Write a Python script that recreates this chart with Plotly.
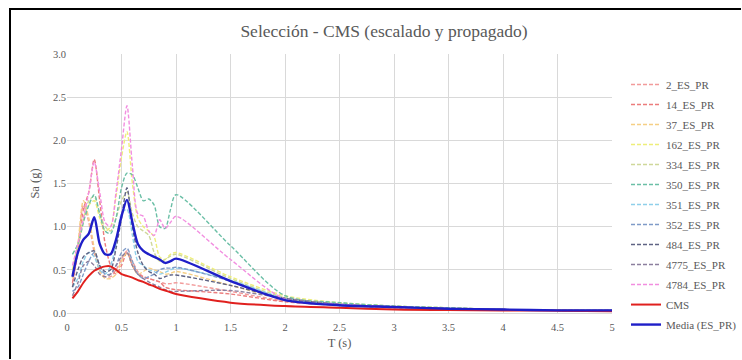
import plotly.graph_objects as go

# Period grid (s)
T = [0.05, 0.1, 0.15, 0.2, 0.25, 0.3, 0.35, 0.4, 0.45, 0.5, 0.55, 0.6, 0.65, 0.7,
     0.75, 0.8, 0.85, 0.9, 0.95, 1.0, 1.5, 2.0, 2.5, 3.0, 3.5, 4.0, 4.5, 5.0]

# Scaled and propagated records, Sa (g)
rec_2 = [0.30, 0.75, 1.25, 1.05, 0.70, 0.50, 0.42, 0.42, 0.50, 0.62, 0.72, 0.60, 0.48, 0.42,
         0.40, 0.38, 0.36, 0.34, 0.34, 0.35, 0.25, 0.14, 0.09, 0.06, 0.05, 0.04, 0.03, 0.03]
rec_14 = [0.35, 0.70, 1.20, 1.40, 1.78, 1.30, 0.80, 0.55, 0.45, 0.55, 0.70, 0.55, 0.45, 0.42,
          0.40, 0.38, 0.36, 0.30, 0.28, 0.27, 0.22, 0.13, 0.09, 0.06, 0.05, 0.04, 0.03, 0.03]
rec_37 = [0.40, 0.80, 1.30, 1.10, 0.75, 0.48, 0.40, 0.40, 0.45, 0.60, 0.70, 0.55, 0.45, 0.48,
          0.52, 0.50, 0.48, 0.45, 0.46, 0.48, 0.32, 0.16, 0.10, 0.07, 0.05, 0.04, 0.03, 0.03]
rec_162 = [0.50, 0.80, 1.10, 1.25, 1.30, 1.10, 0.95, 1.00, 1.35, 1.80, 2.10, 1.50, 1.10, 1.00,
           0.95, 0.88, 0.65, 0.62, 0.68, 0.70, 0.42, 0.20, 0.12, 0.08, 0.06, 0.04, 0.03, 0.03]
rec_334 = [0.45, 0.75, 1.05, 1.30, 1.35, 1.15, 1.00, 0.95, 1.10, 1.30, 1.40, 1.15, 1.00, 0.95,
           0.90, 0.70, 0.60, 0.62, 0.66, 0.68, 0.40, 0.18, 0.11, 0.08, 0.06, 0.04, 0.03, 0.03]
rec_350 = [0.68, 0.80, 1.05, 1.25, 1.37, 1.15, 0.95, 0.92, 1.10, 1.45, 1.62, 1.60, 1.45, 1.30,
           1.32, 1.25, 1.00, 0.98, 1.20, 1.37, 0.78, 0.20, 0.12, 0.08, 0.06, 0.04, 0.03, 0.03]
rec_351 = [0.30, 0.40, 0.60, 0.70, 0.65, 0.50, 0.45, 0.55, 0.80, 1.15, 1.20, 0.90, 0.60, 0.55,
           0.50, 0.48, 0.45, 0.47, 0.50, 0.52, 0.38, 0.17, 0.10, 0.07, 0.05, 0.04, 0.03, 0.03]
rec_352 = [0.25, 0.30, 0.45, 0.60, 0.70, 0.55, 0.45, 0.45, 0.55, 0.70, 0.75, 0.60, 0.45, 0.40,
           0.42, 0.45, 0.50, 0.52, 0.52, 0.53, 0.37, 0.16, 0.10, 0.07, 0.05, 0.04, 0.03, 0.03]
rec_484 = [0.30, 0.50, 0.65, 0.70, 0.72, 0.55, 0.48, 0.50, 0.75, 1.10, 1.45, 1.00, 0.70, 0.55,
           0.48, 0.45, 0.40, 0.42, 0.44, 0.44, 0.32, 0.17, 0.10, 0.07, 0.05, 0.04, 0.03, 0.03]
rec_4775 = [0.20, 0.35, 0.55, 0.60, 0.55, 0.45, 0.42, 0.45, 0.55, 0.65, 0.70, 0.55, 0.45, 0.40,
            0.36, 0.33, 0.30, 0.27, 0.25, 0.25, 0.26, 0.17, 0.10, 0.07, 0.05, 0.04, 0.03, 0.03]
rec_4784 = [0.55, 0.80, 1.10, 1.40, 1.75, 1.40, 1.05, 1.00, 1.40, 1.90, 2.40, 1.70, 1.15, 1.12,
            0.95, 0.90, 1.08, 0.98, 1.05, 1.12, 0.62, 0.16, 0.10, 0.07, 0.05, 0.04, 0.03, 0.03]

# Conditional mean spectrum and mean of the records
cms = [0.17, 0.25, 0.35, 0.43, 0.49, 0.52, 0.54, 0.54, 0.50, 0.45, 0.43, 0.41, 0.38, 0.36,
       0.33, 0.31, 0.28, 0.26, 0.24, 0.22, 0.12, 0.08, 0.06, 0.04, 0.035, 0.03, 0.025, 0.02]
media = [0.42, 0.70, 0.85, 0.92, 1.11, 0.80, 0.68, 0.68, 0.85, 1.12, 1.31, 1.05, 0.80, 0.72,
         0.68, 0.65, 0.62, 0.58, 0.60, 0.63, 0.37, 0.15, 0.09, 0.07, 0.05, 0.04, 0.03, 0.03]

records = [
    ("2_ES_PR", rec_2, "#F29B9B"),
    ("14_ES_PR", rec_14, "#EC7C7C"),
    ("37_ES_PR", rec_37, "#F5CF85"),
    ("162_ES_PR", rec_162, "#EEEE7A"),
    ("334_ES_PR", rec_334, "#CFD89A"),
    ("350_ES_PR", rec_350, "#6BBFA6"),
    ("351_ES_PR", rec_351, "#8FD0EA"),
    ("352_ES_PR", rec_352, "#7F9BC8"),
    ("484_ES_PR", rec_484, "#5F6384"),
    ("4775_ES_PR", rec_4775, "#8C7F9E"),
    ("4784_ES_PR", rec_4784, "#F28EE0"),
]

x_ticks = [0, 0.5, 1, 1.5, 2, 2.5, 3, 3.5, 4, 4.5, 5]
x_ticktext = ["0", "0.5", "1", "1.5", "2", "2.5", "3", "3.5", "4", "4.5", "5"]
y_ticks = [0.0, 0.5, 1.0, 1.5, 2.0, 2.5, 3.0]

FONT = "Liberation Serif"
GREY = "#595959"

W, H = 742, 360
ML, MR, MT, MB = 67, 130, 54, 47
PW, PH = W - ML - MR, H - MT - MB


def px_to_paper_x(px):
    return (px - ML) / PW


def px_to_paper_y(py):
    return (H - MB - py) / PH


fig = go.Figure()
for name, vals, color in records:
    fig.add_trace(go.Scatter(
        x=T, y=vals, name=name, mode="lines", legendgroup=name,
        line=dict(color=color, width=1.4, dash="4px,2px", shape="spline", smoothing=0.8),
    ))
fig.add_trace(go.Scatter(x=T, y=cms, name="CMS", mode="lines", legendgroup="CMS",
                         line=dict(color="#E0201E", width=2, shape="spline", smoothing=0.8)))
fig.add_trace(go.Scatter(x=T, y=media, name="Media (ES_PR)", mode="lines", legendgroup="Media",
                         line=dict(color="#1F1FC8", width=2.4, shape="spline", smoothing=0.8)))

# Chart frame: only the left and top edges fall inside the canvas
frame = dict(color="black", width=2)
shapes = [
    dict(type="line", xref="paper", yref="paper",
         x0=px_to_paper_x(10), x1=px_to_paper_x(10),
         y0=px_to_paper_y(H - 1), y1=px_to_paper_y(8), line=frame),
    dict(type="line", xref="paper", yref="paper",
         x0=px_to_paper_x(9), x1=px_to_paper_x(W - 1),
         y0=px_to_paper_y(9), y1=px_to_paper_y(9), line=frame),
]

fig.update_layout(
    width=W, height=H,
    margin=dict(l=ML, r=MR, t=MT, b=MB, autoexpand=False),
    paper_bgcolor="white", plot_bgcolor="white",
    font=dict(family=FONT, color=GREY, size=10),
    title=dict(text="Selección - CMS (escalado y propagado)", x=0.5175, xref="container",
               xanchor="center", y=0.915, yref="container", yanchor="middle",
               font=dict(family=FONT, size=17.5, color=GREY)),
    legend=dict(x=px_to_paper_x(626), xanchor="left", y=0.938, yanchor="top",
                traceorder="grouped", tracegroupgap=1, maxheight=340,
                font=dict(family=FONT, size=11, color=GREY),
                bgcolor="rgba(0,0,0,0)"),
    xaxis=dict(range=[0, 5], tickvals=x_ticks, ticktext=x_ticktext, showgrid=True,
               gridcolor="#D9D9D9", gridwidth=1, zeroline=False, showline=True,
               linecolor="#D9D9D9", linewidth=1, ticks="", tickfont=dict(size=10.5),
               ticklabelstandoff=4,
               title=dict(text="T (s)", font=dict(size=12.5), standoff=6)),
    yaxis=dict(range=[0, 3], tickvals=y_ticks, tickformat=".1f", showgrid=True,
               gridcolor="#D9D9D9", gridwidth=1, zeroline=False, showline=False,
               ticks="", tickfont=dict(size=10.5),
               title=dict(text="Sa (g)", font=dict(size=12.5), standoff=10)),
    shapes=shapes,
)

fig.write_html("out.html")
